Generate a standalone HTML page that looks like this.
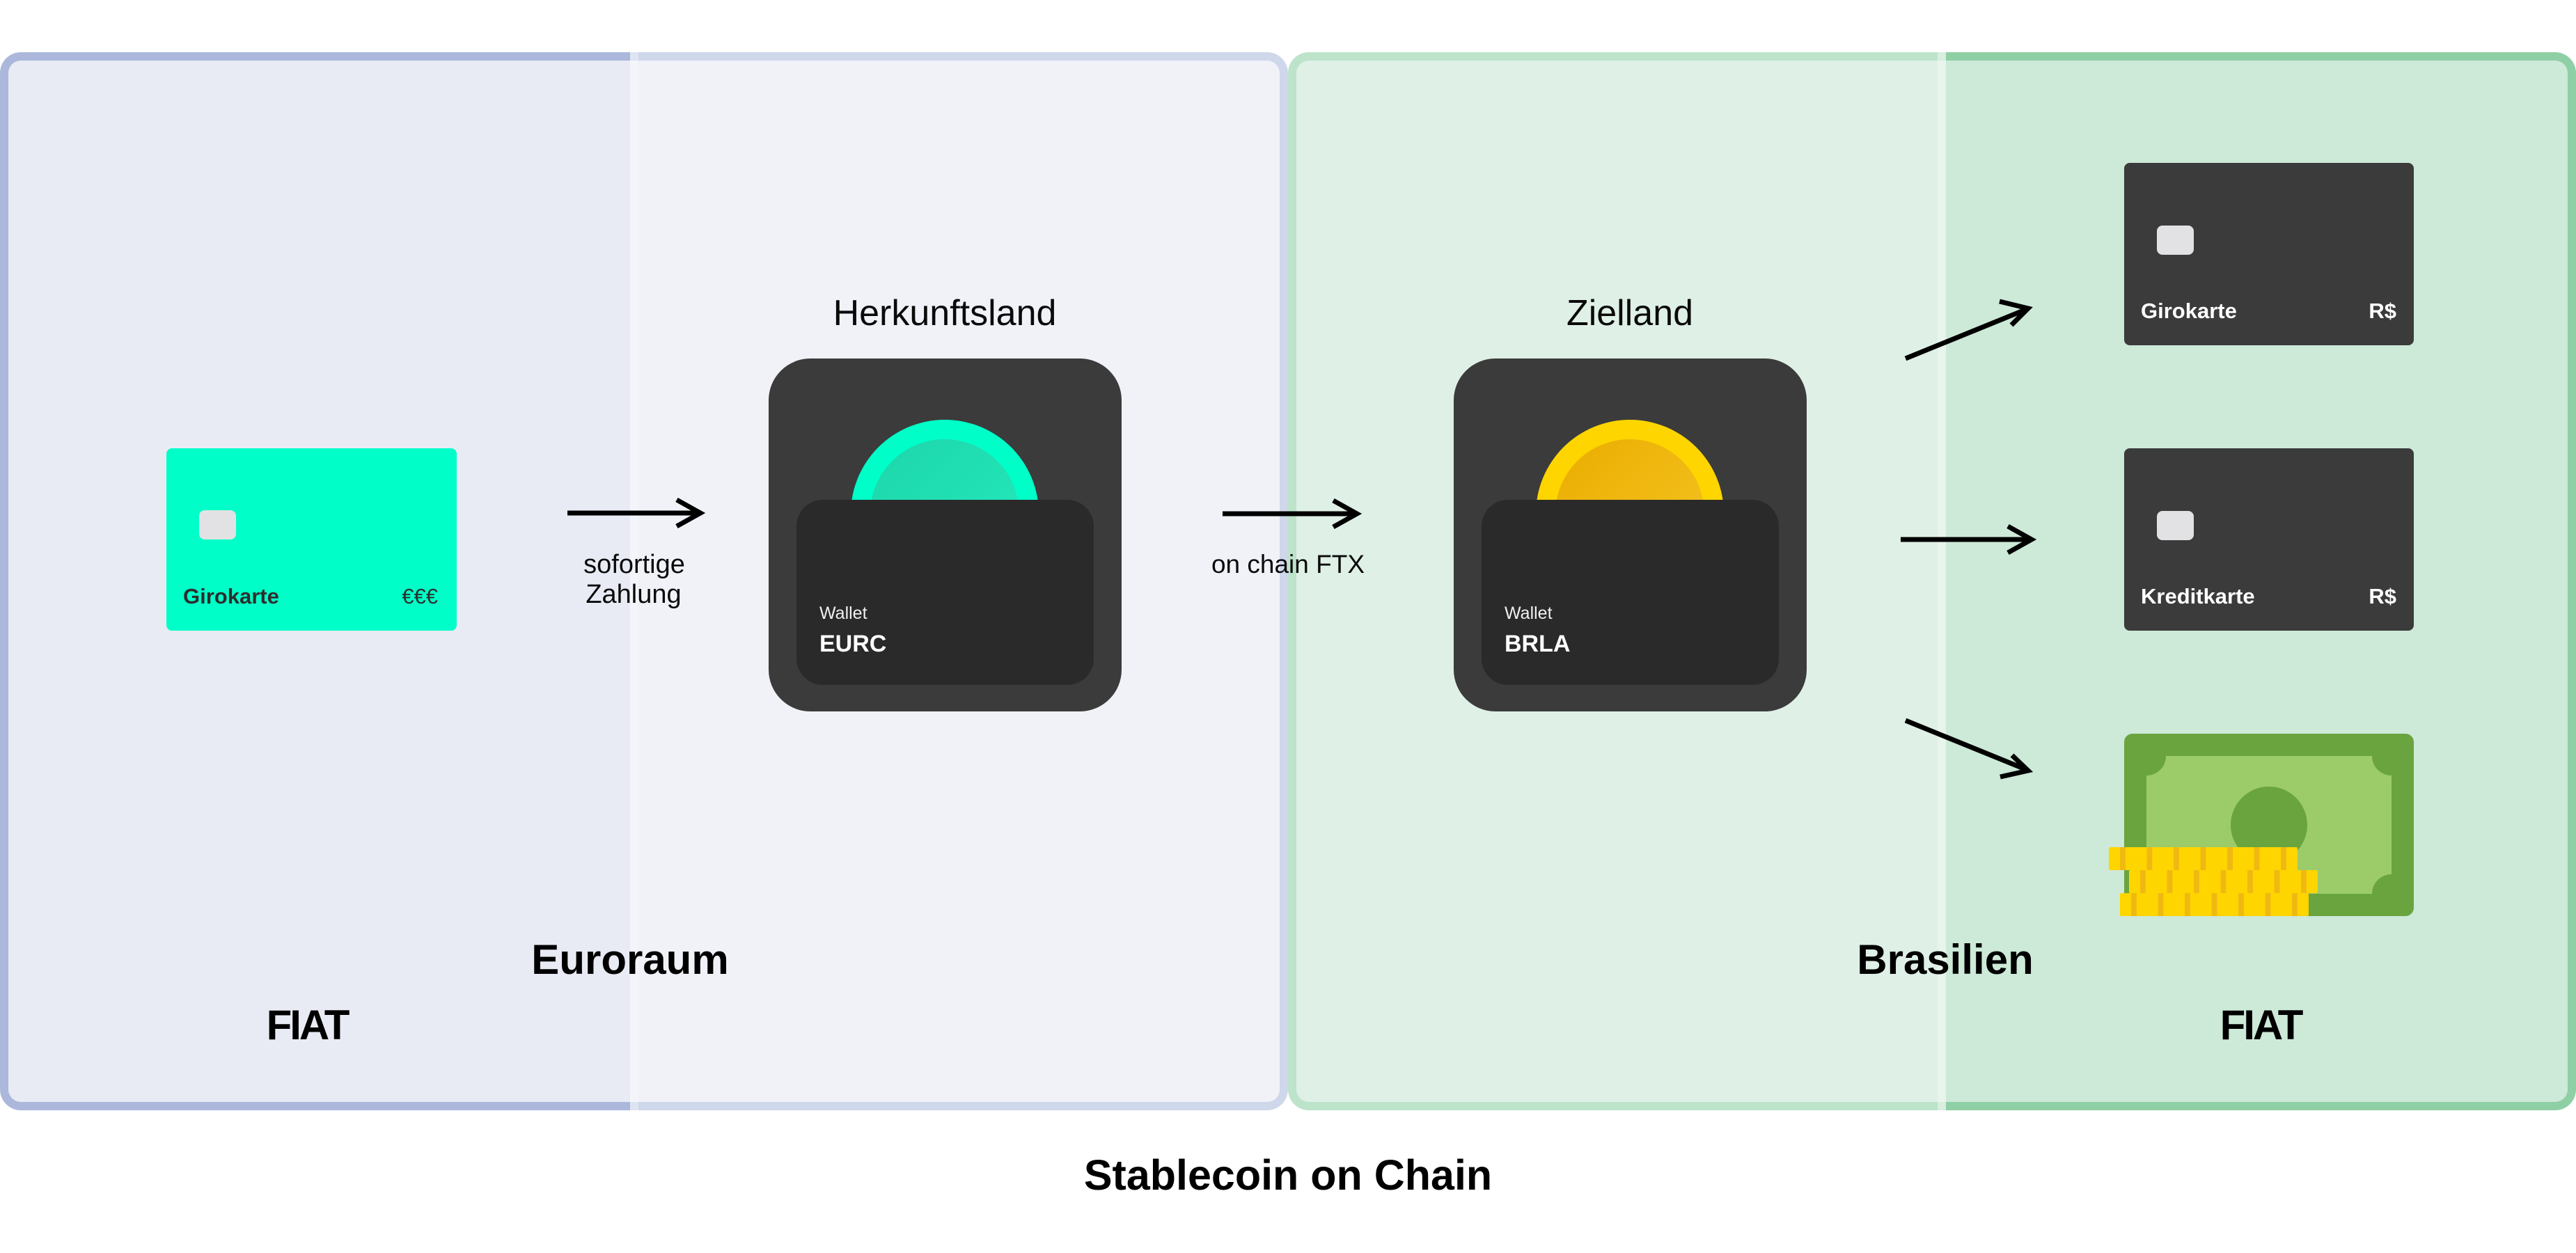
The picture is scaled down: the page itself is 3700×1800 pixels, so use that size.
<!DOCTYPE html>
<html>
<head>
<meta charset="utf-8">
<style>
  html,body{margin:0;padding:0;background:#ffffff;}
  svg{display:block;}
  text{font-family:"Liberation Sans", Arial, sans-serif;}
</style>
</head>
<body>
<svg width="3700" height="1800" viewBox="0 0 3700 1800" xmlns="http://www.w3.org/2000/svg">
  <defs>
    <clipPath id="lo"><rect x="0" y="75" width="1850" height="1520" rx="30" ry="30"/></clipPath>
    <clipPath id="li"><rect x="12" y="87" width="1826" height="1496" rx="18" ry="18"/></clipPath>
    <clipPath id="go"><rect x="1850" y="75" width="1850" height="1520" rx="30" ry="30"/></clipPath>
    <clipPath id="gi"><rect x="1862" y="87" width="1826" height="1496" rx="18" ry="18"/></clipPath>
    <linearGradient id="tealIn" x1="0" y1="0" x2="1" y2="1">
      <stop offset="0" stop-color="#1dd6aa"/>
      <stop offset="1" stop-color="#24eabd"/>
    </linearGradient>
    <linearGradient id="yelIn" x1="0" y1="0" x2="1" y2="1">
      <stop offset="0" stop-color="#ebad00"/>
      <stop offset="1" stop-color="#f5c524"/>
    </linearGradient>
  </defs>

  <!-- Left panel (Euroraum) -->
  <g clip-path="url(#lo)">
    <rect x="0" y="75" width="905" height="1520" fill="#abb8dc"/>
    <rect x="905" y="75" width="12" height="1520" fill="#dfe4f2"/>
    <rect x="917" y="75" width="933" height="1520" fill="#cfd7ea"/>
  </g>
  <g clip-path="url(#li)">
    <rect x="0" y="75" width="905" height="1520" fill="#e8ebf4"/>
    <rect x="905" y="75" width="12" height="1520" fill="#f4f5fa"/>
    <rect x="917" y="75" width="933" height="1520" fill="#f0f2f8"/>
  </g>

  <!-- Right panel (Brasilien) -->
  <g clip-path="url(#go)">
    <rect x="1850" y="75" width="933" height="1520" fill="#bde3ca"/>
    <rect x="2783" y="75" width="12" height="1520" fill="#d8eedf"/>
    <rect x="2795" y="75" width="905" height="1520" fill="#8fcfa5"/>
  </g>
  <g clip-path="url(#gi)">
    <rect x="1850" y="75" width="933" height="1520" fill="#dff0e6"/>
    <rect x="2783" y="75" width="12" height="1520" fill="#e8f5ec"/>
    <rect x="2795" y="75" width="905" height="1520" fill="#cde9d8"/>
  </g>

  <!-- Green Girokarte -->
  <rect x="239" y="644" width="417" height="262" rx="8" fill="#00ffc8"/>
  <rect x="286" y="733" width="53" height="42" rx="8" fill="#e2e2e4"/>
  <text x="263" y="867" font-size="31" font-weight="700" fill="#2d2d2d">Girokarte</text>
  <text x="629" y="867" font-size="31" font-weight="400" fill="#2d2d2d" text-anchor="end">€€€</text>

  <!-- Arrow 1 -->
  <line x1="815" y1="737" x2="1003" y2="737" stroke="#000" stroke-width="7"/>
  <polyline points="972,718 1006,737 972,756" fill="none" stroke="#000" stroke-width="7" stroke-linejoin="miter"/>
  <text x="911" y="823" font-size="38" fill="#0a0a0a" text-anchor="middle">sofortige</text>
  <text x="910" y="866" font-size="38" fill="#0a0a0a" text-anchor="middle">Zahlung</text>

  <!-- Wallet 1 -->
  <text x="1357" y="467" font-size="52" fill="#0a0a0a" text-anchor="middle">Herkunftsland</text>
  <rect x="1104" y="515" width="507" height="507" rx="60" fill="#3b3b3b"/>
  <circle cx="1357" cy="738" r="135" fill="#00ffc8"/>
  <circle cx="1357" cy="738" r="107" fill="url(#tealIn)"/>
  <rect x="1144" y="718" width="427" height="266" rx="38" fill="#2a2a2a"/>
  <text x="1177" y="889" font-size="25" fill="#f0f0f0">Wallet</text>
  <text x="1177" y="936" font-size="34" font-weight="700" fill="#ffffff">EURC</text>

  <!-- Arrow 2 -->
  <line x1="1756" y1="738" x2="1946" y2="738" stroke="#000" stroke-width="7"/>
  <polyline points="1915,719 1949,738 1915,757" fill="none" stroke="#000" stroke-width="7" stroke-linejoin="miter"/>
  <text x="1850" y="823" font-size="37" fill="#0a0a0a" text-anchor="middle">on chain FTX</text>

  <!-- Wallet 2 -->
  <text x="2341" y="467" font-size="52" fill="#0a0a0a" text-anchor="middle">Zielland</text>
  <rect x="2088" y="515" width="507" height="507" rx="60" fill="#3b3b3b"/>
  <circle cx="2341" cy="738" r="135" fill="#ffd500"/>
  <circle cx="2341" cy="738" r="107" fill="url(#yelIn)"/>
  <rect x="2128" y="718" width="427" height="266" rx="38" fill="#2a2a2a"/>
  <text x="2161" y="889" font-size="25" fill="#f0f0f0">Wallet</text>
  <text x="2161" y="936" font-size="34" font-weight="700" fill="#ffffff">BRLA</text>

  <!-- Arrows right -->
  <line x1="2737" y1="515" x2="2909" y2="445" stroke="#000" stroke-width="7"/>
  <polyline points="2872,433 2913,443 2889,467" fill="none" stroke="#000" stroke-width="7" stroke-linejoin="miter"/>

  <line x1="2730" y1="775" x2="2914" y2="775" stroke="#000" stroke-width="7"/>
  <polyline points="2884,756 2918,775 2884,794" fill="none" stroke="#000" stroke-width="7" stroke-linejoin="miter"/>

  <line x1="2737" y1="1035" x2="2909" y2="1105" stroke="#000" stroke-width="7"/>
  <polyline points="2890,1085 2913,1107 2873,1116" fill="none" stroke="#000" stroke-width="7" stroke-linejoin="miter"/>

  <!-- Dark Girokarte -->
  <rect x="3051" y="234" width="416" height="262" rx="8" fill="#3b3b3b"/>
  <rect x="3098" y="324" width="53" height="42" rx="8" fill="#e2e2e4"/>
  <text x="3075" y="457" font-size="31" font-weight="700" fill="#ffffff">Girokarte</text>
  <text x="3442" y="457" font-size="31" font-weight="700" fill="#ffffff" text-anchor="end">R$</text>

  <!-- Dark Kreditkarte -->
  <rect x="3051" y="644" width="416" height="262" rx="8" fill="#3b3b3b"/>
  <rect x="3098" y="734" width="53" height="42" rx="8" fill="#e2e2e4"/>
  <text x="3075" y="867" font-size="31" font-weight="700" fill="#ffffff">Kreditkarte</text>
  <text x="3442" y="867" font-size="31" font-weight="700" fill="#ffffff" text-anchor="end">R$</text>

  <!-- Money bill -->
  <rect x="3051" y="1054" width="416" height="262" rx="12" fill="#69a43f"/>
  <rect x="3083" y="1086" width="352" height="198" fill="#9ccb6a"/>
  <circle cx="3083" cy="1086" r="28" fill="#69a43f"/>
  <circle cx="3435" cy="1086" r="28" fill="#69a43f"/>
  <circle cx="3083" cy="1284" r="28" fill="#69a43f"/>
  <circle cx="3435" cy="1284" r="28" fill="#69a43f"/>
  <circle cx="3259" cy="1185" r="55" fill="#69a43f"/>

  <!-- Coins -->
  <g>
    <rect x="3029" y="1217" width="271" height="33" rx="2" fill="#ffd500"/>
    <rect x="3045" y="1217" width="8" height="33" fill="#f0b912"/>
    <rect x="3083.5" y="1217" width="8" height="33" fill="#f0b912"/>
    <rect x="3122" y="1217" width="8" height="33" fill="#f0b912"/>
    <rect x="3160.5" y="1217" width="8" height="33" fill="#f0b912"/>
    <rect x="3199" y="1217" width="8" height="33" fill="#f0b912"/>
    <rect x="3237.5" y="1217" width="8" height="33" fill="#f0b912"/>
    <rect x="3276" y="1217" width="8" height="33" fill="#f0b912"/>

    <rect x="3058" y="1250" width="271" height="33" rx="2" fill="#ffd500"/>
    <rect x="3074" y="1250" width="8" height="33" fill="#f0b912"/>
    <rect x="3112.5" y="1250" width="8" height="33" fill="#f0b912"/>
    <rect x="3151" y="1250" width="8" height="33" fill="#f0b912"/>
    <rect x="3189.5" y="1250" width="8" height="33" fill="#f0b912"/>
    <rect x="3228" y="1250" width="8" height="33" fill="#f0b912"/>
    <rect x="3266.5" y="1250" width="8" height="33" fill="#f0b912"/>
    <rect x="3305" y="1250" width="8" height="33" fill="#f0b912"/>

    <rect x="3045" y="1283" width="271" height="33" rx="2" fill="#ffd500"/>
    <rect x="3061" y="1283" width="8" height="33" fill="#f0b912"/>
    <rect x="3099.5" y="1283" width="8" height="33" fill="#f0b912"/>
    <rect x="3138" y="1283" width="8" height="33" fill="#f0b912"/>
    <rect x="3176.5" y="1283" width="8" height="33" fill="#f0b912"/>
    <rect x="3215" y="1283" width="8" height="33" fill="#f0b912"/>
    <rect x="3253.5" y="1283" width="8" height="33" fill="#f0b912"/>
    <rect x="3292" y="1283" width="8" height="33" fill="#f0b912"/>
  </g>

  <!-- Region labels -->
  <text x="905" y="1399" font-size="60" font-weight="700" fill="#000" text-anchor="middle">Euroraum</text>
  <text x="2794" y="1399" font-size="60" font-weight="700" fill="#000" text-anchor="middle">Brasilien</text>
  <text x="441" y="1493" font-size="60" font-weight="700" fill="#000" text-anchor="middle" letter-spacing="-3">FIAT</text>
  <text x="3247" y="1493" font-size="60" font-weight="700" fill="#000" text-anchor="middle" letter-spacing="-3">FIAT</text>

  <text x="1850" y="1709" font-size="61" font-weight="700" fill="#000" text-anchor="middle">Stablecoin on Chain</text>
</svg>
</body>
</html>
